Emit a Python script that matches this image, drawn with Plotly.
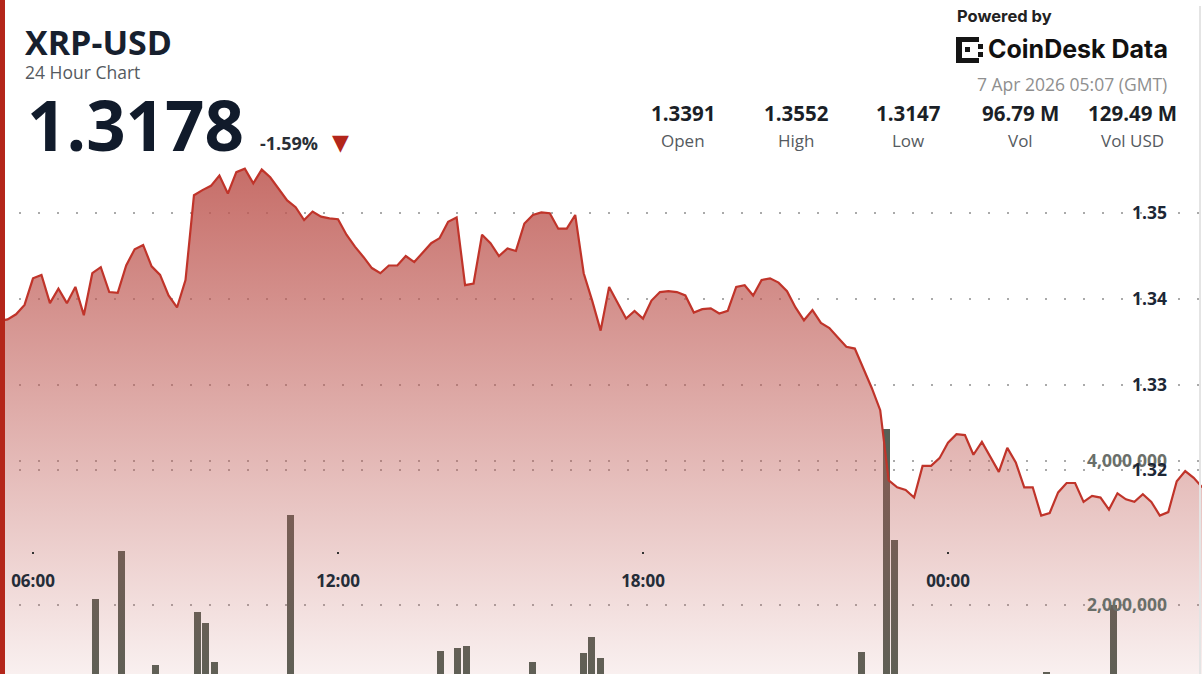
import plotly.graph_objects as go
import pandas as pd

W, H = 1202, 674

# ---------------- data ----------------
price_start = "2026-04-06 05:20"
prices = [
    1.3374, 1.3376, 1.3382, 1.3393,
    1.3424, 1.3428, 1.3395, 1.3412, 1.3395, 1.3414, 1.3381, 1.3430, 1.3437, 1.3408,
    1.3407, 1.3439, 1.3458, 1.3463, 1.3438, 1.3428, 1.3404, 1.3390, 1.3422, 1.3521,
    1.3527, 1.3532, 1.3544, 1.3523, 1.3548, 1.3552, 1.3535, 1.3551, 1.3542, 1.3529,
    1.3515, 1.3507, 1.3492, 1.3502, 1.3496, 1.3494, 1.3493, 1.3475, 1.3461, 1.3449,
    1.3436, 1.3430, 1.3439, 1.3439, 1.3450, 1.3443, 1.3454, 1.3465, 1.3471, 1.3490,
    1.3495, 1.3416, 1.3418, 1.3475, 1.3465, 1.3450, 1.3459, 1.3456, 1.3488, 1.3498,
    1.3501, 1.3500, 1.3482, 1.3482, 1.3498, 1.3430, 1.3398, 1.3363, 1.3414, 1.3396,
    1.3377, 1.3386, 1.3377, 1.3398, 1.3408, 1.3409, 1.3408, 1.3404, 1.3384, 1.3388,
    1.3389, 1.3383, 1.3386, 1.3414, 1.3416, 1.3404, 1.3422, 1.3424, 1.3419, 1.3409,
    1.3390, 1.3375, 1.3387, 1.3372, 1.3366, 1.3355, 1.3344, 1.3342, 1.3319, 1.3296,
    1.3270, 1.3188, 1.3180, 1.3177, 1.3168, 1.3205, 1.3205, 1.3214, 1.3232, 1.3242,
    1.3241, 1.3218, 1.3233, 1.3215, 1.3198, 1.3226, 1.3209, 1.3180, 1.3180, 1.3147,
    1.3150, 1.3174, 1.3185, 1.3185, 1.3163, 1.3170, 1.3168, 1.3154, 1.3173, 1.3166,
    1.3163, 1.3172, 1.3163, 1.3147, 1.3151, 1.3187, 1.3199, 1.3191, 1.3180,
]
times = pd.date_range(price_start, periods=len(prices), freq="10min")

vol_times = [
    "2026-04-06 07:10", "2026-04-06 07:40", "2026-04-06 08:20", "2026-04-06 09:10",
    "2026-04-06 09:20", "2026-04-06 09:30", "2026-04-06 11:00", "2026-04-06 13:57",
    "2026-04-06 14:17", "2026-04-06 14:28", "2026-04-06 15:45", "2026-04-06 16:46",
    "2026-04-06 16:55", "2026-04-06 17:06", "2026-04-06 22:14", "2026-04-06 22:43",
    "2026-04-06 22:53", "2026-04-07 01:52", "2026-04-07 03:11",
]
vol_values = [
    2080000, 2750000, 1170000, 1900000, 1750000, 1210000, 3250000, 1360000,
    1410000, 1430000, 1210000, 1330000, 1560000, 1260000, 1350000, 4440000,
    2900000, 1070000, 2000000,
]

price_ticks = [1.32, 1.33, 1.34, 1.35]
vol_ticks = [2000000, 4000000]
vol_tick_text = ["2,000,000", "4,000,000"]
x_ticks = ["2026-04-06 06:00", "2026-04-06 12:00", "2026-04-06 18:00", "2026-04-07 00:00"]
x_tick_text = ["06:00", "12:00", "18:00", "00:00"]

symbol = "XRP-USD"
subtitle = "24 Hour Chart"
last_price = "1.3178"
change_pct = "-1.59%"
stamp = "7 Apr 2026 05:07 (GMT)"
stat_values = ["1.3391", "1.3552", "1.3147", "96.79 M", "129.49 M"]
stat_labels = ["Open", "High", "Low", "Vol", "Vol USD"]

# ---------------- figure ----------------
FONT = "Open Sans"
fig = go.Figure()

fig.add_trace(go.Bar(
    x=vol_times, y=vol_values, yaxis="y",
    marker=dict(color="rgb(86,96,86)", line=dict(width=0)),
    width=495000, offset=0, hoverinfo="skip",
))

fig.add_trace(go.Scatter(
    x=times, y=prices, yaxis="y2", mode="lines",
    line=dict(color="#c0342a", width=2.2),
    fill="tozeroy",
    fillgradient=dict(
        type="vertical",
        colorscale=[[0, "rgba(190,88,82,0.09)"], [1, "rgba(190,88,82,0.88)"]],
        start=1.2962, stop=1.3560,
    ),
    hoverinfo="skip",
))


def px(x):
    return x / W


def py(y):
    return 1 - y / H


def ann(text, x, y, size, color, weight=400, xanchor="left", family=FONT):
    return dict(text=text, x=px(x), y=py(y), xref="paper", yref="paper",
                xanchor=xanchor, yanchor="middle", showarrow=False,
                font=dict(family=family, size=size, color=color, weight=weight))


annotations = [
    ann(symbol, 23, 42, 34, "#17202e", 700),
    ann(subtitle, 23, 72, 17.5, "#555a60", 400),
    ann(last_price, 25, 124, 69, "#111b2b", 700),
    ann(change_pct, 258, 143, 18, "#2a2f36", 700),
    ann("▼", 330, 142, 22, "#b3261b", 400, family="DejaVu Sans"),
    ann("Powered by", 1054, 16, 16.5, "#222222", 700, xanchor="right", family="Inter"),
    ann("CoinDesk Data", 1170, 49, 25, "#111111", 700, xanchor="right", family="Inter"),
    ann(stamp, 1169, 84, 17.5, "#8f8f8f", 400, xanchor="right"),
]
stat_x = [683, 796, 908, 1020, 1132]
for sx, v, lab in zip(stat_x, stat_values, stat_labels):
    annotations.append(ann(v, sx, 113, 20.5, "#1b1f27", 700, xanchor="center"))
    annotations.append(ann(lab, sx, 140, 17, "#555a60", 400, xanchor="center"))


def rect(x0, y0, x1, y1, color, layer="above"):
    return dict(type="rect", xref="paper", yref="paper",
                x0=px(x0), x1=px(x1), y0=py(y1), y1=py(y0),
                fillcolor=color, line=dict(width=0), layer=layer)


shapes = [
    rect(0, 0, 5, 674, "#b4261a"),
    rect(1199, 6, 1201, 674, "rgb(228,228,228)"),
    # logo glyph
    rect(956, 37, 979, 42, "#151515"),
    rect(956, 37, 962, 63, "#151515"),
    rect(956, 58, 979, 63, "#151515"),
    rect(965, 47, 970, 52, "#151515"),
    rect(978, 44, 983, 49, "#151515"),
    rect(978, 52, 983, 57, "#151515"),
]

grid_common = dict(showgrid=True, gridcolor="rgb(170,170,170)", griddash="2px,17px",
                   gridwidth=2, zeroline=False, showline=False, ticks="",
                   side="right", ticklabelposition="inside", ticklabelstandoff=32)

fig.update_layout(
    width=W, height=H, autosize=False,
    margin=dict(l=0, r=0, t=0, b=0, pad=0),
    paper_bgcolor="white", plot_bgcolor="rgba(0,0,0,0)",
    showlegend=False, bargap=0,
    xaxis=dict(
        type="date",
        range=["2026-04-06 05:21:03", "2026-04-07 04:59:48"],
        anchor="free", position=(H - 551) / H,
        tickvals=x_ticks, ticktext=x_tick_text,
        ticks="outside", ticklen=2, tickwidth=2, tickcolor="#333333",
        showgrid=False, showline=False, zeroline=False,
        tickfont=dict(family=FONT, size=17, color="#242c37", weight=700),
        ticklabelstandoff=13,
    ),
    yaxis=dict(
        range=[1042000, 10400000],
        tickvals=vol_ticks, ticktext=vol_tick_text,
        tickfont=dict(family=FONT, size=17.5, color="#6a6f6a", weight=700),
        **grid_common,
    ),
    yaxis2=dict(
        range=[1.2962, 1.3749], overlaying="y",
        tickvals=price_ticks, tickformat=".2f",
        tickfont=dict(family=FONT, size=17.5, color="#1d2736", weight=700),
        **grid_common,
    ),
    annotations=annotations,
    shapes=shapes,
)

fig.write_html("out.html", config={"displayModeBar": False},
               post_script="document.body.style.margin='0px';")
